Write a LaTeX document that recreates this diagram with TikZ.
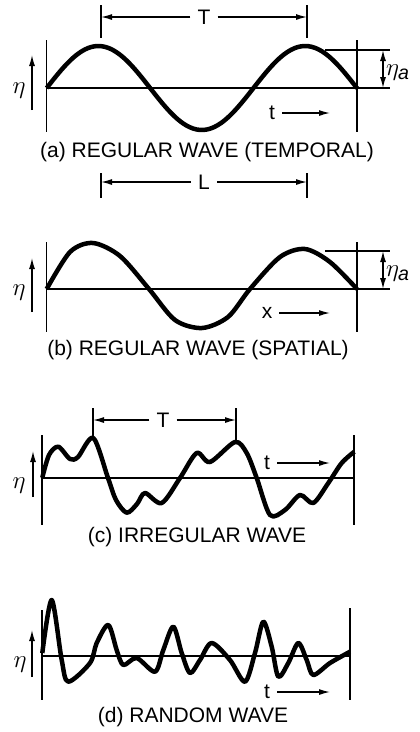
\documentclass[tikz,border=0pt]{standalone}
\usepackage{amsmath}
\usepackage{fontspec}
\setmainfont{Liberation Sans}
\usetikzlibrary{arrows.meta}

\begin{document}
\begin{tikzpicture}[x=1pt,y=-1pt,
    thinline/.style={line width=1.3pt},
    wave/.style={line width=4.5pt,line join=round},
    arr/.style={line width=1.3pt,-{Latex[length=11pt,width=6pt]}},
    caption/.style={font=\fontsize{21}{24}\selectfont,inner sep=1pt},
    dim/.style={font=\fontsize{21}{24}\selectfont,inner sep=7pt},
    eta/.style={font=\fontsize{28}{30}\selectfont,inner sep=0pt}]
    \useasboundingbox (0,0) rectangle (420,732);

    % (a) regular wave, temporal
    \draw[thinline] (46.7,40)--(46.7,132) (357,40)--(357,132) (46.7,88)--(357,88);
    \draw[wave,domain=46.7:357,samples=90,smooth]
    plot (\x,{88-42*sin(1.7408*(\x-46.7))});
    \draw[thinline] (101,5)--(101,38) (307,5)--(307,38);
    \node[dim] (Ta) at (204,17) {T};
    \coordinate (Tal) at (101,17);
    \coordinate (Tar) at (307,17);
    \draw[arr] (Ta)--(Tal);
    \draw[arr] (Ta)--(Tar);
    \draw[thinline] (325,50)--(390,50) (357,88)--(390,88);
    \coordinate (ha) at (383,69);
    \coordinate (hat) at (383,50);
    \coordinate (hab) at (383,88);
    \draw[arr] (ha)--(hat);
    \draw[arr] (ha)--(hab);
    \node[eta,anchor=west] (etaa) at (386,73) {$\eta_{\textit{a}}$};
    \node[eta] (eta1) at (19,91) {$\eta$};
    \coordinate (e1b) at (32,110);
    \coordinate (e1t) at (32,55);
    \draw[arr] (e1b)--(e1t);
    \node[dim] (t1) at (272,113) {t};
    \coordinate (t1e) at (330,113);
    \draw[arr] (t1)--(t1e);
    \node[caption] (capa) at (207,152) {(a) REGULAR WAVE (TEMPORAL)};

    % wavelength
    \draw[thinline] (101,173)--(101,198) (307,173)--(307,198);
    \node[dim] (L) at (204,182) {L};
    \coordinate (Ll) at (101,182);
    \coordinate (Lr) at (307,182);
    \draw[arr] (L)--(Ll);
    \draw[arr] (L)--(Lr);

    % (b) regular wave, spatial
    \draw[thinline] (46.7,242)--(46.7,332) (357,242)--(357,332) (46.7,289)--(357,289);
    \draw[wave] plot[smooth] coordinates {(46.7,289) (70,252) (93,243) (120,256) (149,289)
        (175,320) (202,328) (228,317) (250,289) (280,257) (305,249) (330,262) (357,289)};
    \draw[thinline] (325,251)--(390,251) (357,289)--(390,289);
    \coordinate (hb) at (383,270);
    \coordinate (hbt) at (383,251);
    \coordinate (hbb) at (383,289);
    \draw[arr] (hb)--(hbt);
    \draw[arr] (hb)--(hbb);
    \node[eta,anchor=west] (etab) at (386,274) {$\eta_{\textit{a}}$};
    \node[eta] (eta2) at (19,293) {$\eta$};
    \coordinate (e2b) at (32,312);
    \coordinate (e2t) at (32,258);
    \draw[arr] (e2b)--(e2t);
    \node[dim] (x2) at (267,313) {x};
    \coordinate (x2e) at (330,313);
    \draw[arr] (x2)--(x2e);
    \node[caption] (capb) at (198,350) {(b) REGULAR WAVE (SPATIAL)};

    % (c) irregular wave
    \draw[thinline] (42,435)--(42,525) (354,435)--(354,525) (42,478)--(354,478);
    \draw[wave] plot[smooth] coordinates {(42.3,477.7) (49,455) (58.3,446.7) (70,459) (78,457)
        (93.3,438) (108,478) (116,500) (126.7,512.7) (137,504) (145,493) (161.7,503) (180,478)
        (196.7,453) (210,462) (235,442) (246.7,453) (256.7,478) (270,515) (285,510) (300,495)
        (313.3,503) (328.3,483) (341.7,463) (354.3,451.7)};
    \draw[thinline] (93,408)--(93,438) (236,408)--(236,440);
    \node[dim] (Tc) at (163,420) {T};
    \coordinate (Tcl) at (93,420);
    \coordinate (Tcr) at (236,420);
    \draw[arr] (Tc)--(Tcl);
    \draw[arr] (Tc)--(Tcr);
    \node[eta] (eta3) at (19,486) {$\eta$};
    \coordinate (e3b) at (33,497);
    \coordinate (e3t) at (33,451);
    \draw[arr] (e3b)--(e3t);
    \node[dim] (t3) at (267,463) {t};
    \coordinate (t3e) at (330,463);
    \draw[arr] (t3)--(t3e);
    \node[caption] (capc) at (197,537) {(c) IRREGULAR WAVE};

    % (d) random wave
    \draw[thinline] (42,610)--(42,700) (350,608)--(350,700) (42,656)--(350,656);
    \draw[wave] plot[smooth] coordinates {(42.3,653) (51.7,600) (61.7,660) (68.3,681.7) (90,663)
        (96.7,643) (108.3,625) (116.7,650) (123.3,665) (136.7,658) (155,671.7) (163.3,650)
        (173.3,626.7) (181.7,653) (190,673) (200,660) (211.7,643) (230,660) (245,681.7)
        (255,653) (263.3,621.7) (271.7,646.7) (278.3,676.7) (288.3,663) (298.3,643)
        (306.7,660) (313.3,675) (330,663) (350,651.7)};
    \node[eta] (eta4) at (20,665) {$\eta$};
    \coordinate (e4b) at (32,677);
    \coordinate (e4t) at (32,630);
    \draw[arr] (e4b)--(e4t);
    \node[dim] (t4) at (267,692) {t};
    \coordinate (t4e) at (330,692);
    \draw[arr] (t4)--(t4e);
    \node[caption] (capd) at (193,717) {(d) RANDOM WAVE};
\end{tikzpicture}
\end{document}
